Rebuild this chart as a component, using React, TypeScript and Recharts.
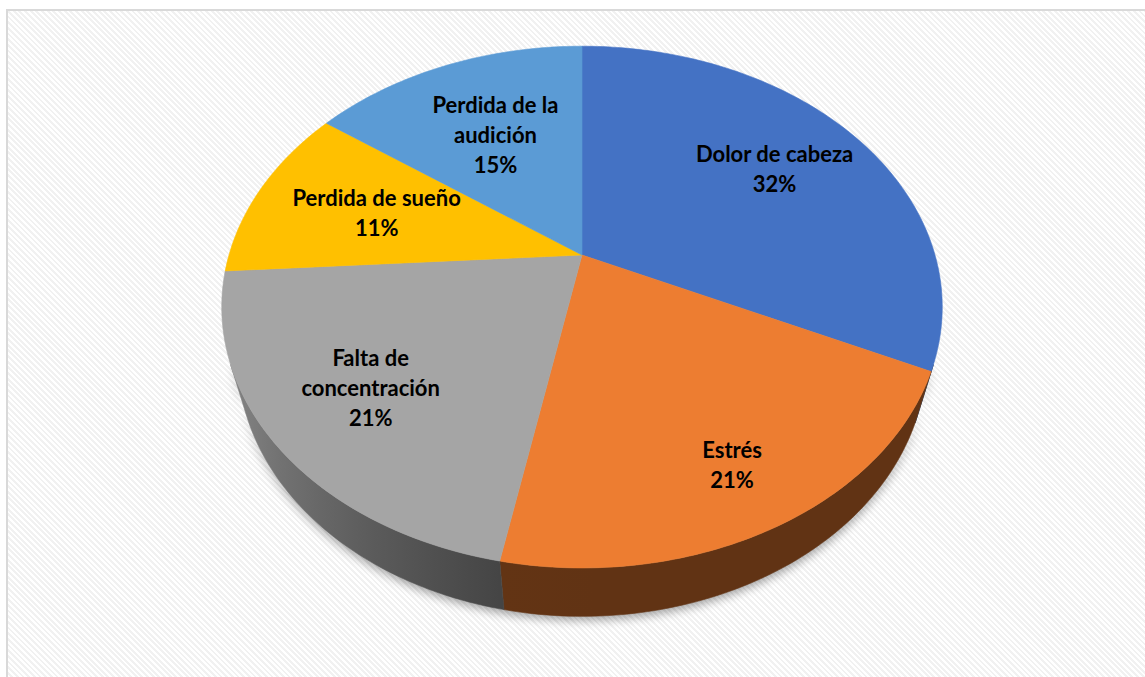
import React from 'react';
import { PieChart, Pie } from 'recharts';

const categories = ['Dolor de cabeza', 'Estrés', 'Falta de concentración', 'Perdida de sueño', 'Perdida de la audición'];
const shares = [32, 21, 21, 11, 15];
const colors = ['#4472C4', '#ED7D31', '#A5A5A5', '#FFC000', '#5B9BD5'];

const data = categories.map((name, i) => ({ name, value: shares[i] }));

// 3d look: camera tilt, distance (in radii) and thickness of the disc
const TILT = (45.2 * Math.PI) / 180;
const DIST = 3.53;
const THICK = 0.22;
const sinT = Math.sin(TILT);
const cosT = Math.cos(TILT);
// side wall only faces the camera below this angle
const LIM = (Math.asin(1 / (DIST * cosT)) * 180) / Math.PI;

const project = (cx: number, cy: number, R: number, deg: number, r: number, h: number) => {
  const a = (deg * Math.PI) / 180;
  const x = r * Math.cos(a);
  const z = r * Math.sin(a);
  const depth = DIST + h * sinT + z * cosT;
  const k = (R * DIST) / depth;
  return [cx + x * k, cy - (z * sinT - h * cosT) * k];
};

const arcPoints = (cx: number, cy: number, R: number, from: number, to: number, h: number) => {
  const steps = Math.max(2, Math.ceil(Math.abs(from - to)));
  const pts: number[][] = [];
  for (let i = 0; i <= steps; i++) {
    pts.push(project(cx, cy, R, from + ((to - from) * i) / steps, 1, h));
  }
  return pts;
};

const toPath = (pts: number[][]) => 'M' + pts.map((p) => `${p[0].toFixed(2)},${p[1].toFixed(2)}`).join('L') + 'Z';

const shade = (hex: string, f: number) => {
  const n = parseInt(hex.slice(1), 16);
  const c = [(n >> 16) & 255, (n >> 8) & 255, n & 255].map((v) => Math.round(v * f));
  return `rgb(${c[0]},${c[1]},${c[2]})`;
};

// wall gets lighter towards the left
const light = (deg: number) => {
  const left = Math.min(1, Math.max(0, (-100 - deg) / 50));
  return 0.41 + 0.37 * left;
};

const wrap = (text: string, max = 16) => {
  const lines: string[] = [];
  let cur = '';
  text.split(' ').forEach((w) => {
    const next = cur ? cur + ' ' + w : w;
    if (next.length > max && cur) {
      lines.push(cur);
      cur = w;
    } else cur = next;
  });
  if (cur) lines.push(cur);
  return lines;
};

const renderSlice = (props: any) => {
  const { cx, cy, outerRadius, startAngle, endAngle, index, percent, name } = props;
  const R = outerRadius;
  const color = colors[index % colors.length];

  // top face
  const top = toPath([[cx, cy], ...arcPoints(cx, cy, R, startAngle, endAngle, 0)]);

  // visible part of the outer wall
  const a = Math.min(startAngle, -LIM);
  const b = Math.max(endAngle, -180 + LIM);
  let side = null;
  if (a > b) {
    const upper = arcPoints(cx, cy, R, a, b, 0);
    const lower = arcPoints(cx, cy, R, b, a, THICK);
    const xr = upper[0][0];
    const xl = upper[upper.length - 1][0];
    const stops = [0, 1, 2, 3, 4, 5, 6].map((i) => {
      const deg = b + ((a - b) * i) / 6;
      const px = project(cx, cy, R, deg, 1, 0)[0];
      return { off: (px - xl) / (xr - xl || 1), col: shade(color, light(deg)) };
    });
    side = (
      <g>
        <defs>
          <linearGradient id={`side-${index}`} gradientUnits="userSpaceOnUse" x1={xl} x2={xr} y1={0} y2={0}>
            {stops.map((s, i) => (
              <stop key={i} offset={s.off} stopColor={s.col} />
            ))}
          </linearGradient>
        </defs>
        <path d={toPath([...upper, ...lower])} fill={`url(#side-${index})`} stroke={`url(#side-${index})`} strokeWidth={0.6} />
      </g>
    );
  }

  // shadow under the whole disc, drawn once
  let shadow = null;
  if (index === 0) {
    const band = [...arcPoints(cx, cy, R, -LIM + 8, -188 + LIM, THICK), ...arcPoints(cx, cy, R, -188 + LIM, -LIM + 8, THICK - 0.08)];
    shadow = (
      <g>
        <defs>
          <filter id="pieShadow" x="-20%" y="-20%" width="140%" height="160%">
            <feGaussianBlur stdDeviation={5} />
          </filter>
        </defs>
        <path d={toPath(band)} fill="#000" opacity={0.35} transform="translate(0,4)" filter="url(#pieShadow)" />
      </g>
    );
  }

  // label
  const mid = (startAngle + endAngle) / 2;
  const rad = (mid * Math.PI) / 180;
  const r = 0.7 + 0.05 * Math.cos(rad) - 0.09 * Math.sin(rad);
  const [lx, ly] = project(cx, cy, R, mid, r, 0);
  const lines = [...wrap(name), `${Math.round(percent * 100)}%`];
  const lh = 30;

  return (
    <g key={`slice-${index}`}>
      {shadow}
      {side}
      <path d={top} fill={color} stroke={color} strokeWidth={0.6} />
      {lines.map((t, i) => (
        <text
          key={i}
          x={lx}
          y={ly - ((lines.length - 1) * lh) / 2 + i * lh}
          textAnchor="middle"
          dominantBaseline="central"
          fontFamily="Lato, 'Open Sans', sans-serif"
          fontWeight={700}
          fontSize={22}
          fill="#000"
        >
          {t}
        </text>
      ))}
    </g>
  );
};

export default function App() {
  return (
    <div style={{ position: 'fixed', left: 0, top: 0, width: 1145, height: 677, overflow: 'hidden', background: '#fff' }}>
      <div
        style={{
          position: 'absolute',
          left: 6,
          top: 9,
          width: 1139,
          height: 668,
          boxSizing: 'border-box',
          borderTop: '2px solid #d9d9d9',
          borderLeft: '2px solid #d9d9d9',
          background: 'repeating-linear-gradient(45deg, #ffffff 0px, #ffffff 2px, #f1f1f1 2px, #f1f1f1 4px)',
        }}
      />
      <div style={{ position: 'absolute', left: 0, top: 0 }}>
        <PieChart width={1145} height={677} margin={{ top: 0, right: 0, bottom: 0, left: 0 }}>
          <Pie
            data={data}
            dataKey="value"
            nameKey="name"
            cx={582}
            cy={255}
            outerRadius={353}
            startAngle={90}
            endAngle={-270}
            fill="none"
            stroke="none"
            label={renderSlice}
            labelLine={false}
            isAnimationActive={false}
          />
        </PieChart>
      </div>
    </div>
  );
}
